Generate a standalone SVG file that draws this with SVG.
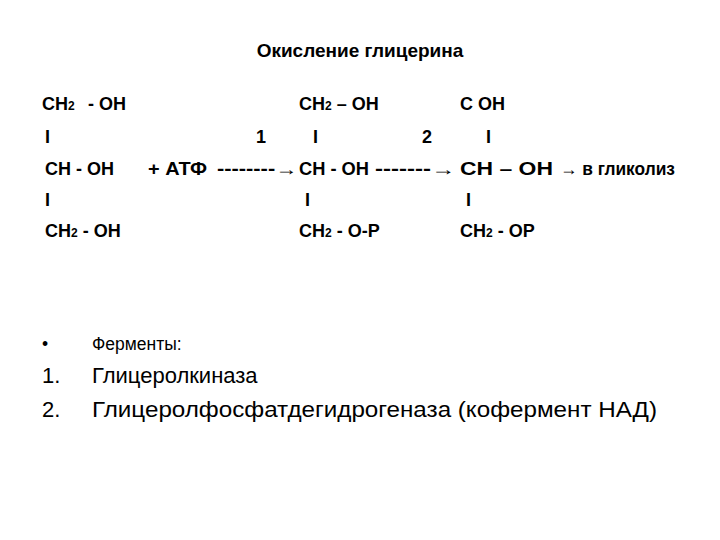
<svg xmlns="http://www.w3.org/2000/svg" width="720" height="540" viewBox="0 0 720 540">
<style>
text{font-family:"Liberation Sans",Arial,sans-serif;fill:#000}
.b{font-weight:bold;font-size:18px}
.s{font-size:12px}
.n{font-size:17.5px}
.l{font-size:22px}
</style>
<rect width="720" height="540" fill="#fff"/>
<text x="360" y="57" text-anchor="middle" style="font-weight:bold;font-size:19px">Окисление глицерина</text>
<g id="glycerol" class="b">
<text x="42" y="110">CH<tspan class="s">2</tspan><tspan x="88">- OH</tspan></text>
<text x="45" y="143">I</text>
<text x="45" y="175">CH - OH</text>
<text x="45" y="206">I</text>
<text x="45" y="237">CH<tspan class="s">2</tspan> - OH</text>
</g>
<g id="glycerophosphate" class="b">
<text x="299" y="110">CH<tspan class="s">2</tspan> – OH</text>
<text x="313" y="143">I</text>
<text x="299" y="175" textLength="70" lengthAdjust="spacingAndGlyphs">CH - OH</text>
<text x="305" y="206">I</text>
<text x="299" y="237">CH<tspan class="s">2</tspan> - O-P</text>
</g>
<g id="dhap" class="b">
<text x="460" y="110">C OH</text>
<text x="486" y="143">I</text>
<text x="460" y="175" textLength="93" lengthAdjust="spacingAndGlyphs">CH – OH</text>
<text x="466" y="206">I</text>
<text x="460" y="237">CH<tspan class="s">2</tspan> - OP</text>
</g>
<g id="connectors" class="b">
<text x="256" y="143">1</text>
<text x="422" y="143">2</text>
<text x="148" y="175" textLength="59" lengthAdjust="spacingAndGlyphs">+ АТФ</text>
<text x="217" y="175" textLength="80" lengthAdjust="spacingAndGlyphs">--------→</text>
<text x="375" y="175" textLength="80" lengthAdjust="spacingAndGlyphs">-------→</text>
<text x="560" y="175" textLength="115" lengthAdjust="spacingAndGlyphs">→ в гликолиз</text>
</g>
<g id="enzymes">
<text x="42" y="350" class="n">•</text>
<text x="92" y="350" class="n">Ферменты:</text>
<text x="42" y="383" class="l">1.</text>
<text x="92" y="383" class="l">Глицеролкиназа</text>
<text x="42" y="417" class="l">2.</text>
<text x="92" y="417" class="l" textLength="565" lengthAdjust="spacingAndGlyphs">Глицеролфосфатдегидрогеназа (кофермент НАД)</text>
</g>
</svg>
